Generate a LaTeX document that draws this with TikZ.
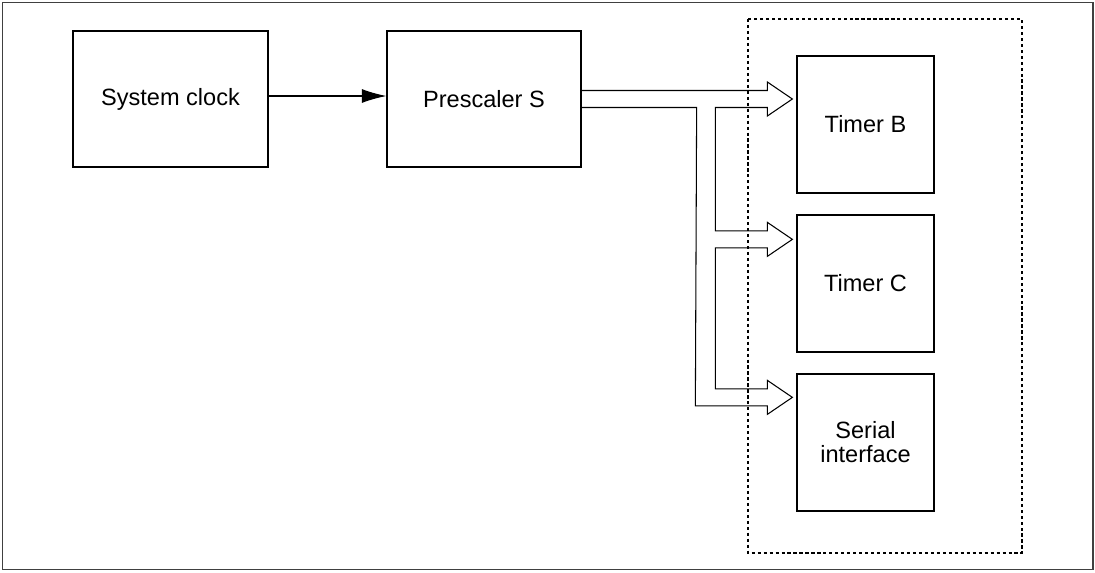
\documentclass[tikz,border=0pt]{standalone}
\usepackage{fontspec}
\setmainfont{Liberation Sans}
\usetikzlibrary{arrows.meta,calc}

\tikzset{
  unit/.style={draw,line width=0.75pt,align=center,
    font=\fontsize{13.4}{13.6}\selectfont,inner sep=0pt},
  bus/.style={line width=0.6pt,line join=miter},
  group/.style={draw,line width=0.6pt,dash pattern=on 1.8pt off 1.6pt}
}

\begin{document}
\begin{tikzpicture}[x=0.02cm,y=-0.02cm,>=Latex]
  \useasboundingbox (0,0) rectangle (1095,572);
  \draw[black!75,line width=0.8pt] (2.5,2.5) rectangle (1093,569.5);

  % clock source and prescaler
  \node[unit,minimum width=3.9cm,minimum height=2.72cm] (sysclk) at (170.5,99) {System clock};
  \node[unit,minimum width=3.88cm,minimum height=2.72cm] (presc) at (484,99) {Prescaler S};

  % peripherals
  \draw[group] (748,19) rectangle (1022,553);
  \node[unit,minimum width=2.74cm,minimum height=2.74cm] (timerB) at (865.5,124.5) {Timer B};
  \node[unit,minimum width=2.74cm,minimum height=2.74cm] (timerC) at (865.5,283.5) {Timer C};
  \node[unit,minimum width=2.74cm,minimum height=2.74cm] (serial) at (865.5,442.5) {Serial\\interface};

  \draw[line width=0.6pt,-{Latex[length=14pt,width=8pt]}]
    ($(sysclk.east)+(0,-3)$) -- ($(presc.west)+(0,-3)$);

  % hollow clock bus
  \coordinate (tipB) at ($(timerB.west |- presc.east)+(-4,0)$);
  \coordinate (tipC) at ($(timerC.north west)+(-4,25)$);
  \coordinate (tipS) at ($(serial.north west)+(-4,24)$);
  \draw[bus] ($(presc.east)+(0,-8.5)$) -- ($(tipB)+(-25,-8.5)$) -- ++(0,-8.5)
    -- (tipB) -- ++(-25,17) -- ++(0,-8.5) -- ($(tipB)+(-77,8.5)$)
    -- ($(tipC)+(-77,-8.5)$) -- ++(52,0) -- ++(0,-8.5)
    -- (tipC) -- ++(-25,17) -- ++(0,-8.5) -- ($(tipC)+(-77,8.5)$)
    -- ($(tipS)+(-77,-8.5)$) -- ++(52,0) -- ++(0,-8.5)
    -- (tipS) -- ++(-25,17) -- ++(0,-8.5) -- ($(tipS)+(-97,8.5)$)
    -- ($(presc.east)+(115,8.5)$) -- ($(presc.east)+(0,8.5)$);
\end{tikzpicture}
\end{document}
